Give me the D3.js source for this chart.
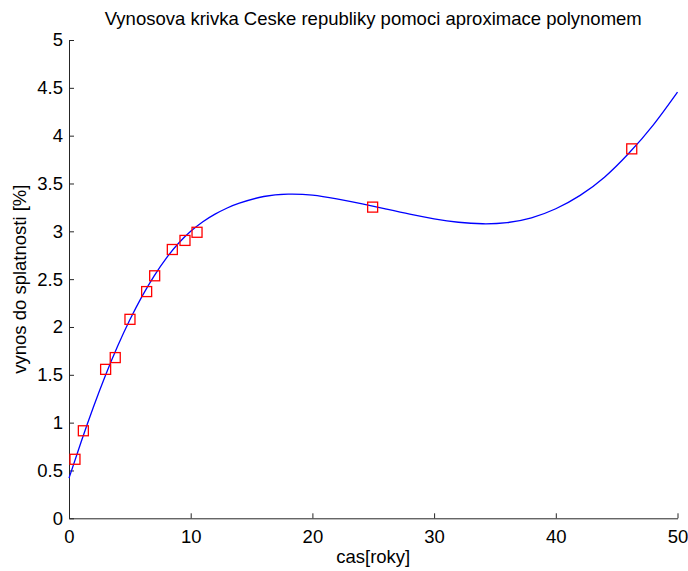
<!DOCTYPE html>
<html>
<head>
<meta charset="utf-8">
<script src="https://cdn.jsdelivr.net/npm/d3@7"></script>
<style>
  body { margin: 0; background: #fff; }
  svg { display: block; font-family: "Liberation Sans", Arial, sans-serif; }
</style>
</head>
<body>
<div id="chart"></div>
<script>
// measured yields (red squares)
const bondYears = [0.49, 1.18, 3.01, 3.8, 5.01, 6.38, 7.04, 8.49, 9.53, 10.52, 24.95, 46.24];
const bondYields = [0.617, 0.915, 1.557, 1.68, 2.08, 2.37, 2.535, 2.81, 2.905, 2.99, 3.253, 3.862];

// polynomial approximation
const fitYears = [0, 1, 2, 3, 4, 5, 6, 7, 8, 9, 10, 11, 12, 13, 14, 16, 18, 20, 22, 24, 26, 28, 30, 32, 34, 36, 38, 40, 42, 44, 46, 48, 50];
const fitYields = [0.42, 0.80, 1.16, 1.495, 1.80, 2.075, 2.32, 2.535, 2.72, 2.875, 3.00, 3.10, 3.18, 3.244, 3.294, 3.364, 3.389, 3.379, 3.339, 3.289, 3.234, 3.179, 3.131, 3.095, 3.079, 3.091, 3.141, 3.236, 3.376, 3.566, 3.816, 4.111, 4.456];

const xTicks = [0, 10, 20, 30, 40, 50];
const yTicks = [0, 0.5, 1, 1.5, 2, 2.5, 3, 3.5, 4, 4.5, 5];

const titleText = 'Vynosova krivka Ceske republiky pomoci aproximace polynomem';
const xLabel = 'cas[roky]';
const yLabel = 'vynos do splatnosti [%]';

const W = 688, H = 571;
const margin = { top: 40, right: 10.5, bottom: 52.7, left: 69 };
const width = W - margin.left - margin.right;
const height = H - margin.top - margin.bottom;
const fontSize = '18.5px';

const svg = d3.select('#chart').append('svg')
  .attr('width', W)
  .attr('height', H);

const g = svg.append('g')
  .attr('transform', 'translate(' + margin.left + ',' + margin.top + ')');

const x = d3.scaleLinear().domain([0, 50]).range([0, width]);
const y = d3.scaleLinear().domain([0, 5]).range([height, 0]);

// axes, ticks pointing inward like matlab
const xAxis = g.append('g')
  .attr('transform', 'translate(0,' + height + ')')
  .call(d3.axisBottom(x).tickValues(xTicks).tickSizeInner(-5).tickSizeOuter(0).tickPadding(11.5));
const yAxis = g.append('g')
  .call(d3.axisLeft(y).tickValues(yTicks).tickSizeInner(-5).tickSizeOuter(0).tickPadding(6)
    .tickFormat(d3.format('')));

[xAxis, yAxis].forEach(a => {
  a.selectAll('path, line').attr('stroke', '#262626').attr('stroke-width', 1);
  a.selectAll('text').attr('fill', '#000').style('font-size', fontSize)
    .style('font-family', '"Liberation Sans", Arial, sans-serif');
});

// fitted curve
const line = d3.line()
  .x((d, i) => x(fitYears[i]))
  .y(d => y(d))
  .curve(d3.curveNatural);

g.append('path')
  .datum(fitYields)
  .attr('d', line)
  .attr('fill', 'none')
  .attr('stroke', '#0000ff')
  .attr('stroke-width', 1.3);

// data markers
const s = 10;
g.selectAll('.pt')
  .data(bondYields)
  .enter()
  .append('rect')
  .attr('class', 'pt')
  .attr('x', (d, i) => x(bondYears[i]) - s / 2)
  .attr('y', d => y(d) - s / 2)
  .attr('width', s)
  .attr('height', s)
  .attr('fill', 'none')
  .attr('stroke', '#ff0000')
  .attr('stroke-width', 1.3);

// title and labels
svg.append('text')
  .attr('x', margin.left + width / 2)
  .attr('y', 25)
  .attr('text-anchor', 'middle')
  .style('font-size', fontSize)
  .text(titleText);

svg.append('text')
  .attr('x', margin.left + width / 2)
  .attr('y', 563)
  .attr('text-anchor', 'middle')
  .style('font-size', fontSize)
  .text(xLabel);

svg.append('text')
  .attr('transform', 'translate(26,' + (margin.top + height / 2) + ') rotate(-90)')
  .attr('text-anchor', 'middle')
  .style('font-size', fontSize)
  .text(yLabel);
</script>
</body>
</html>
